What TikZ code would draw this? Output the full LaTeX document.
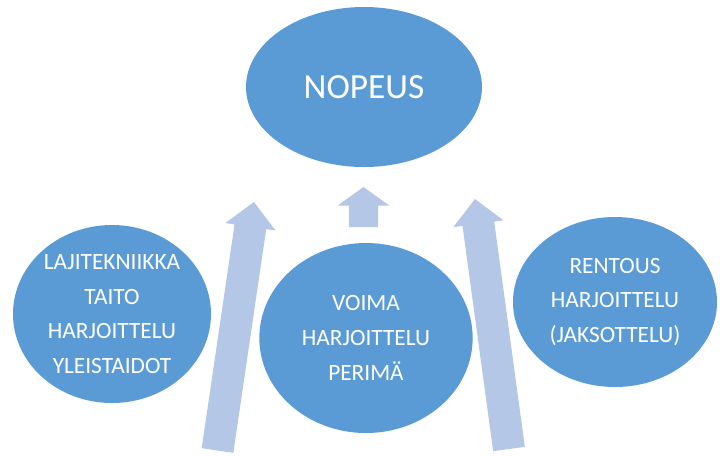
\documentclass[tikz,border=0pt]{standalone}
\usepackage{fontspec}
\setmainfont{Carlito}
\usetikzlibrary{shapes.geometric,calc}

\definecolor{nodeblue}{HTML}{5B9BD5}
\definecolor{arrowblue}{HTML}{B4C7E7}

% block arrow: from, to, shaft half width, head half width, head length
\newcommand{\blockarrow}[5]{%
	\coordinate (#1h) at ($(#2)!#5!(#1)$);
	\fill[arrow fill] ($(#1)!#3!90:(#2)$) -- ($(#1h)!#3!90:(#2)$) -- ($(#1h)!#4!90:(#2)$) -- (#2)
		-- ($(#1h)!#4!-90:(#2)$) -- ($(#1h)!#3!-90:(#2)$) -- ($(#1)!#3!-90:(#2)$) -- cycle;
}

\begin{document}
\begin{tikzpicture}[x=0.75pt, y=-0.75pt, main node/.style={ellipse, fill=nodeblue, text=white, inner sep=0pt, align=center, font=\fontsize{17.5}{26}\selectfont}, arrow fill/.style={fill=arrowblue}]

			\useasboundingbox (0,0) rectangle (720,455);

			\node[main node, minimum width=177pt, minimum height=120pt, font=\fontsize{26.5}{30}\selectfont] (1) at (364,87) {NOPEUS};
			\node[main node, minimum width=148.5pt, minimum height=133.5pt] (2) at (112,314) {LAJITEKNIIKKA\\TAITO\\HARJOITTELU\\YLEISTAIDOT};
			\node[main node, minimum width=160pt, minimum height=142.5pt] (3) at (366,338) {VOIMA\\HARJOITTELU\\PERIMÄ};
			\node[main node, minimum width=153pt, minimum height=127.5pt] (4) at (615,302) {RENTOUS\\HARJOITTELU\\(JAKSOTTELU)};

			% arrows up towards NOPEUS
			\coordinate (a1) at (217.5,450.5);
			\coordinate (b1) at (254,202);
			\coordinate (a2) at (363.5,227);
			\coordinate (b2) at (363.5,187);
			\coordinate (a3) at (509,449);
			\coordinate (b3) at (475,199);
			\blockarrow{a1}{b1}{12pt}{19pt}{18.75pt}
			\blockarrow{a2}{b2}{11pt}{19.5pt}{14pt}
			\blockarrow{a3}{b3}{12pt}{19pt}{18.75pt}

		\end{tikzpicture}
\end{document}
